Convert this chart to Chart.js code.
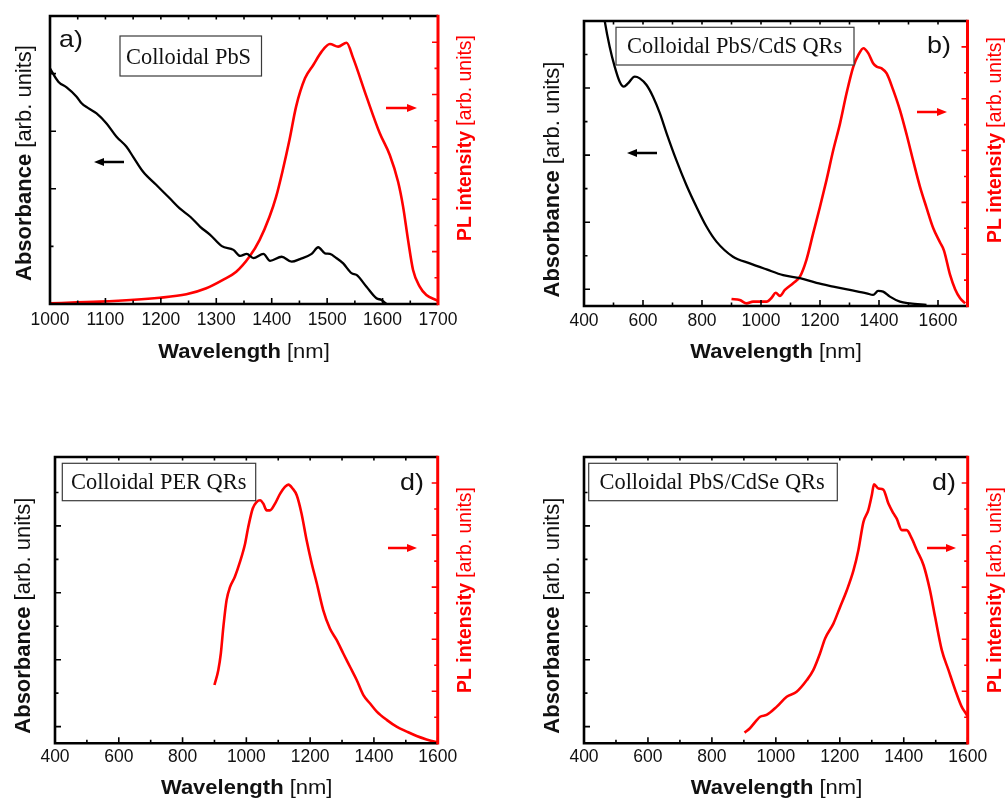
<!DOCTYPE html>
<html><head><meta charset="utf-8">
<script src="https://cdn.jsdelivr.net/npm/chart.js@4.4.0/dist/chart.umd.min.js"></script>
<style>
html,body{margin:0;padding:0;background:#fff;}
#wrap{position:relative;width:1005px;height:799px;overflow:hidden;background:#fff;}
canvas{position:absolute;left:0;top:0;}
</style></head><body><div id="wrap">
<canvas id="pa" width="1005" height="799"></canvas>
<canvas id="pb" width="1005" height="799"></canvas>
<canvas id="pc" width="1005" height="799"></canvas>
<canvas id="pd" width="1005" height="799"></canvas>
</div>
<script>
// ---------- data ----------
// Panel a: Colloidal PbS
const aAbsNm = [1000,1015,1030,1048,1057,1069,1084,1102,1120,1138,1150,1168,1192,1216,1234,1253,1271,1289,1310,1331,1343,1355,1367,1385,1397,1418,1436,1451,1472,1484,1496,1505,1517,1529,1544,1553,1571,1589,1598,1607];
const aAbs   = [0.818,0.772,0.752,0.72,0.697,0.68,0.662,0.627,0.581,0.546,0.511,0.459,0.413,0.367,0.332,0.303,0.268,0.24,0.201,0.188,0.167,0.174,0.159,0.174,0.15,0.164,0.147,0.156,0.174,0.197,0.176,0.174,0.159,0.141,0.107,0.101,0.06,0.02,0.014,0.0];
const aPLNm  = [1000,1090,1198,1246,1282,1312,1336,1360,1378,1396,1408,1420,1432,1444,1460,1475,1490,1505,1520,1535,1547,1571,1595,1613,1628,1637,1646,1655,1667,1679,1697,1700];
const aPL    = [0.003,0.009,0.024,0.037,0.06,0.092,0.123,0.181,0.244,0.333,0.41,0.512,0.626,0.754,0.862,0.913,0.964,0.993,0.983,0.998,0.939,0.792,0.652,0.569,0.467,0.372,0.244,0.13,0.066,0.034,0.015,0.012];
// Panel b: Colloidal PbS/CdS QRs
const bAbsNm = [460,470,487,504,521,535,549,572,589,612,634,657,680,713,747,781,815,849,905,962,1019,1075,1132,1188,1245,1301,1358,1380,1397,1414,1437,1471,1505,1561];
const bAbs   = [0.86,0.801,0.723,0.664,0.619,0.604,0.614,0.634,0.629,0.609,0.574,0.525,0.465,0.385,0.311,0.246,0.187,0.142,0.097,0.077,0.059,0.042,0.033,0.019,0.008,-0.002,-0.012,-0.017,-0.005,-0.007,-0.022,-0.037,-0.042,-0.047];
const bPLNm  = [900,928,951,973,996,1019,1036,1050,1064,1081,1109,1132,1154,1177,1200,1222,1245,1268,1290,1313,1330,1347,1364,1380,1392,1409,1426,1448,1471,1494,1516,1539,1561,1584,1607,1620,1641,1658,1675,1692];
const bPL    = [0.027,0.023,0.01,0.017,0.017,0.017,0.032,0.051,0.039,0.062,0.088,0.113,0.178,0.281,0.383,0.486,0.602,0.705,0.821,0.924,0.969,0.995,0.975,0.937,0.924,0.917,0.898,0.834,0.756,0.66,0.56,0.46,0.38,0.30,0.245,0.215,0.12,0.065,0.03,0.01];
// Panel c: Colloidal PER QRs
const cPLNm  = [900,912,920,928,938,949,964,980,996,1006,1020,1032,1043,1053,1064,1074,1090,1106,1121,1132,1145,1158,1173,1189,1205,1221,1241,1262,1283,1304,1325,1346,1367,1388,1409,1440,1471,1503,1534,1565,1592,1600];
const cPL    = [0.224,0.281,0.345,0.448,0.55,0.601,0.64,0.697,0.767,0.831,0.902,0.927,0.934,0.921,0.895,0.895,0.921,0.959,0.985,0.994,0.979,0.953,0.883,0.78,0.691,0.614,0.512,0.441,0.397,0.345,0.294,0.243,0.185,0.153,0.122,0.09,0.064,0.045,0.028,0.015,0.006,0.004];
// Panel d: Colloidal PbS/CdSe QRs
const dPLNm  = [902,919,951,971,1003,1034,1065,1097,1117,1138,1154,1180,1201,1222,1243,1258,1274,1289,1300,1307,1321,1336,1352,1368,1378,1394,1409,1425,1441,1462,1482,1498,1519,1540,1561,1581,1597,1600];
const dPL    = [0.041,0.058,0.102,0.109,0.141,0.179,0.198,0.243,0.281,0.345,0.403,0.46,0.524,0.588,0.665,0.742,0.851,0.895,0.953,0.995,0.979,0.975,0.921,0.883,0.863,0.819,0.819,0.787,0.742,0.684,0.588,0.486,0.358,0.281,0.205,0.141,0.109,0.10];

// ---------- tick labels / tick positions ----------
const aXLabels = [1000,1100,1200,1300,1400,1500,1600,1700];
const aXMinor  = [1050,1150,1250,1350,1450,1550,1650];
const bXLabels = [400,600,800,1000,1200,1400,1600];
const bXMinor  = [500,700,900,1100,1300,1500];
const aTop     = [1050,1100,1150,1200,1250,1300,1350,1400,1450,1500,1550,1600,1650];
const bTop     = [500,600,700,800,900,1000,1100,1200,1300,1400,1500,1600];
const aYLMajor = [0.4,0.6,0.8];
const aYLMinor = [0.2];
const bYLMajor = [0,0.2,0.4,0.6];
const bYLMinor = [0.1,0.3,0.5,0.7];
const yRMajor  = [0.2,0.4,0.6,0.8,1.0];
const yRMinor  = [0.1,0.3,0.5,0.7,0.9];

// ---------- drawing helpers ----------
const SANS = '"Liberation Sans", Arial, sans-serif';
const SERIF = '"Liberation Serif", "Times New Roman", serif';
const RED = '#ff0000';

function drawParts(ctx, parts, x, y, o) {
  ctx.save();
  ctx.translate(x, y);
  if (o.rot) ctx.rotate(o.rot);
  if (o.sx) ctx.scale(o.sx, 1);
  ctx.fillStyle = o.color || '#000';
  ctx.textBaseline = 'alphabetic';
  ctx.textAlign = 'left';
  const fam = o.family || SANS;
  const fonts = parts.map(p => (p.b ? 'bold ' : '') + o.size + 'px ' + fam);
  const widths = parts.map((p, i) => { ctx.font = fonts[i]; return ctx.measureText(p.t).width; });
  const total = widths.reduce((s, w) => s + w, 0);
  let cx = o.align === 'center' ? -total / 2 : 0;
  const by = o.vcenter ? o.size * 0.358 : 0;
  parts.forEach((p, i) => { ctx.font = fonts[i]; ctx.fillText(p.t, cx, by); cx += widths[i]; });
  ctx.restore();
}

function arrow(ctx, x1, x2, y, color) {
  const dir = Math.sign(x2 - x1);
  ctx.save();
  ctx.strokeStyle = color; ctx.fillStyle = color; ctx.lineWidth = 2.5;
  ctx.beginPath(); ctx.moveTo(x1, y); ctx.lineTo(x2 - dir * 6, y); ctx.stroke();
  ctx.beginPath(); ctx.moveTo(x2, y); ctx.lineTo(x2 - dir * 10, y - 4); ctx.lineTo(x2 - dir * 10, y + 4); ctx.closePath(); ctx.fill();
  ctx.restore();
}

const DECO = {};

const decoPlugin = {
  id: 'deco',
  afterDatasetsDraw(chart) {
    const d = DECO[chart.canvas.id];
    if (!d) return;
    const ctx = chart.ctx;
    const { left, right, top, bottom } = chart.chartArea;
    const sx = chart.scales.x, yL = chart.scales.yL, yR = chart.scales.yR;
    ctx.save();
    // black ticks
    ctx.strokeStyle = '#000'; ctx.lineWidth = 1.6;
    ctx.beginPath();
    d.xMajor.forEach(v => { const p = sx.getPixelForValue(v); ctx.moveTo(p, bottom); ctx.lineTo(p, bottom - 6); });
    d.xMinor.forEach(v => { const p = sx.getPixelForValue(v); ctx.moveTo(p, bottom); ctx.lineTo(p, bottom - 3.5); });
    d.xTop.forEach(v => { const p = sx.getPixelForValue(v); ctx.moveTo(p, top); ctx.lineTo(p, top + 3.5); });
    d.yLMajor.forEach(v => { const p = yL.getPixelForValue(v); ctx.moveTo(left, p); ctx.lineTo(left + 6, p); });
    d.yLMinor.forEach(v => { const p = yL.getPixelForValue(v); ctx.moveTo(left, p); ctx.lineTo(left + 3.5, p); });
    ctx.stroke();
    // red ticks
    ctx.strokeStyle = RED;
    ctx.beginPath();
    yRMajor.forEach(v => { const p = yR.getPixelForValue(v); ctx.moveTo(right, p); ctx.lineTo(right - 6, p); });
    yRMinor.forEach(v => { const p = yR.getPixelForValue(v); ctx.moveTo(right, p); ctx.lineTo(right - 3.5, p); });
    ctx.stroke();
    // frame
    ctx.lineWidth = 2.6; ctx.strokeStyle = '#000';
    ctx.beginPath();
    ctx.moveTo(right, top); ctx.lineTo(left, top); ctx.lineTo(left, bottom); ctx.lineTo(right, bottom);
    ctx.stroke();
    ctx.strokeStyle = RED; ctx.lineWidth = 3;
    ctx.beginPath(); ctx.moveTo(right, top - 1.3); ctx.lineTo(right, bottom + 1.3); ctx.stroke();
    // label box
    const bx = d.box;
    ctx.fillStyle = '#fff'; ctx.fillRect(bx.x, bx.y, bx.w, bx.h);
    ctx.strokeStyle = '#3a3a3a'; ctx.lineWidth = 1.2; ctx.strokeRect(bx.x, bx.y, bx.w, bx.h);
    drawParts(ctx, [{ t: bx.text }], bx.tx, bx.ty, { size: 22.4, family: SERIF, color: '#111' });
    // panel letter
    drawParts(ctx, [{ t: d.letter.t }], d.letter.x, d.letter.y, { size: 24, sx: 1.12, color: '#111' });
    // arrows
    d.arrows.forEach(a => arrow(ctx, a.x1, a.x2, a.y, a.c));
    // axis titles
    drawParts(ctx, [{ t: 'Wavelength', b: true }, { t: ' [nm]' }], d.xt.x, d.xt.y, { size: 20, sx: 1.1, align: 'center', vcenter: true, color: '#111' });
    drawParts(ctx, [{ t: 'Absorbance', b: true }, { t: ' [arb. units]' }], d.yl.x, d.yl.y, { size: 22, rot: -Math.PI / 2, align: 'center', vcenter: true, color: '#111' });
    drawParts(ctx, [{ t: 'PL intensity', b: true }, { t: ' [arb. units]' }], d.yr.x, d.yr.y, { size: 19.4, rot: -Math.PI / 2, align: 'center', vcenter: true, color: RED });
    ctx.restore();
  }
};

function pts(xs, ys) { return xs.map((x, i) => ({ x: x, y: ys[i] })); }

function makePanel(id, p) {
  DECO[id] = p.deco;
  const datasets = [];
  if (p.abs) datasets.push({ data: pts(p.abs[0], p.abs[1]), yAxisID: 'yL', borderColor: '#000', borderWidth: 2.3, pointRadius: 0, fill: false, cubicInterpolationMode: 'monotone' });
  datasets.push({ data: pts(p.pl[0], p.pl[1]), yAxisID: 'yR', borderColor: RED, borderWidth: 2.6, pointRadius: 0, fill: false, cubicInterpolationMode: 'monotone' });
  return new Chart(document.getElementById(id), {
    type: 'line',
    data: { datasets: datasets },
    options: {
      responsive: false, animation: false, devicePixelRatio: 1,
      events: [],
      layout: { padding: { left: p.area.l, top: p.area.t, right: 1005 - p.area.r, bottom: 799 - p.area.b - 30 } },
      plugins: { legend: { display: false }, tooltip: { enabled: false } },
      scales: {
        x: {
          type: 'linear', min: p.xMin, max: p.xMax,
          afterFit: s => { s.height = 30; },
          afterBuildTicks: s => { s.ticks = p.xLabels.map(v => ({ value: v })); },
          grid: { display: false, drawTicks: false }, border: { display: false },
          ticks: { padding: p.tickPad, autoSkip: false, maxRotation: 0, color: '#111',
                   font: { family: SANS, size: 17.5 }, callback: v => String(v) }
        },
        yL: { type: 'linear', position: 'left', display: false, min: p.yLMin, max: p.yLMax },
        yR: { type: 'linear', position: 'right', display: false, min: 0, max: 1.1 }
      }
    },
    plugins: [decoPlugin]
  });
}

makePanel('pa', {
  area: { l: 50, t: 16, r: 438, b: 304 }, xMin: 1000, xMax: 1700, xLabels: aXLabels, tickPad: 6,
  yLMin: 0, yLMax: 1,
  abs: [aAbsNm, aAbs], pl: [aPLNm, aPL],
  deco: {
    xMajor: aXLabels, xMinor: aXMinor, xTop: aTop, yLMajor: aYLMajor, yLMinor: aYLMinor,
    box: { x: 120, y: 36, w: 141.5, h: 40, text: 'Colloidal PbS', tx: 126, ty: 63.7 },
    letter: { t: 'a)', x: 59, y: 47 },
    arrows: [{ x1: 124, x2: 94, y: 162, c: '#000' }, { x1: 386, x2: 417, y: 108, c: RED }],
    xt: { x: 244, y: 351 }, yl: { x: 23, y: 163 }, yr: { x: 464, y: 138 }
  }
});

makePanel('pb', {
  area: { l: 584, t: 21, r: 967.5, b: 306 }, xMin: 400, xMax: 1700, xLabels: bXLabels, tickPad: 5,
  yLMin: -0.05, yLMax: 0.8,
  abs: [bAbsNm, bAbs], pl: [bPLNm, bPL],
  deco: {
    xMajor: bXLabels, xMinor: bXMinor, xTop: bTop, yLMajor: bYLMajor, yLMinor: bYLMinor,
    box: { x: 616, y: 27.3, w: 238, h: 37.7, text: 'Colloidal PbS/CdS QRs', tx: 627, ty: 53.3 },
    letter: { t: 'b)', x: 927, y: 53 },
    arrows: [{ x1: 657, x2: 627, y: 153, c: '#000' }, { x1: 917, x2: 947, y: 112, c: RED }],
    xt: { x: 776, y: 350.5 }, yl: { x: 551.5, y: 179.5 }, yr: { x: 994, y: 140 }
  }
});

makePanel('pc', {
  area: { l: 55, t: 457, r: 437.7, b: 743.3 }, xMin: 400, xMax: 1600, xLabels: bXLabels, tickPad: 3.5,
  yLMin: -0.05, yLMax: 0.806,
  pl: [cPLNm, cPL],
  deco: {
    xMajor: bXLabels, xMinor: bXMinor, xTop: bTop.filter(v => v < 1600), yLMajor: bYLMajor, yLMinor: bYLMinor,
    box: { x: 62.3, y: 463.3, w: 193.4, h: 37.4, text: 'Colloidal PER QRs', tx: 71, ty: 489.3 },
    letter: { t: 'd)', x: 400, y: 490 },
    arrows: [{ x1: 388, x2: 417, y: 548, c: RED }],
    xt: { x: 246.7, y: 787 }, yl: { x: 22.5, y: 615.7 }, yr: { x: 464, y: 590 }
  }
});

makePanel('pd', {
  area: { l: 584, t: 457, r: 967.7, b: 743.3 }, xMin: 400, xMax: 1600, xLabels: bXLabels, tickPad: 3.5,
  yLMin: -0.05, yLMax: 0.806,
  pl: [dPLNm, dPL],
  deco: {
    xMajor: bXLabels, xMinor: bXMinor, xTop: bTop.filter(v => v < 1600), yLMajor: bYLMajor, yLMinor: bYLMinor,
    box: { x: 588.7, y: 463.3, w: 248.6, h: 37.4, text: 'Colloidal PbS/CdSe QRs', tx: 599.5, ty: 489.3 },
    letter: { t: 'd)', x: 932, y: 490 },
    arrows: [{ x1: 927, x2: 956, y: 548, c: RED }],
    xt: { x: 776.5, y: 787 }, yl: { x: 551, y: 615.7 }, yr: { x: 994, y: 590 }
  }
});
</script>
</body></html>
